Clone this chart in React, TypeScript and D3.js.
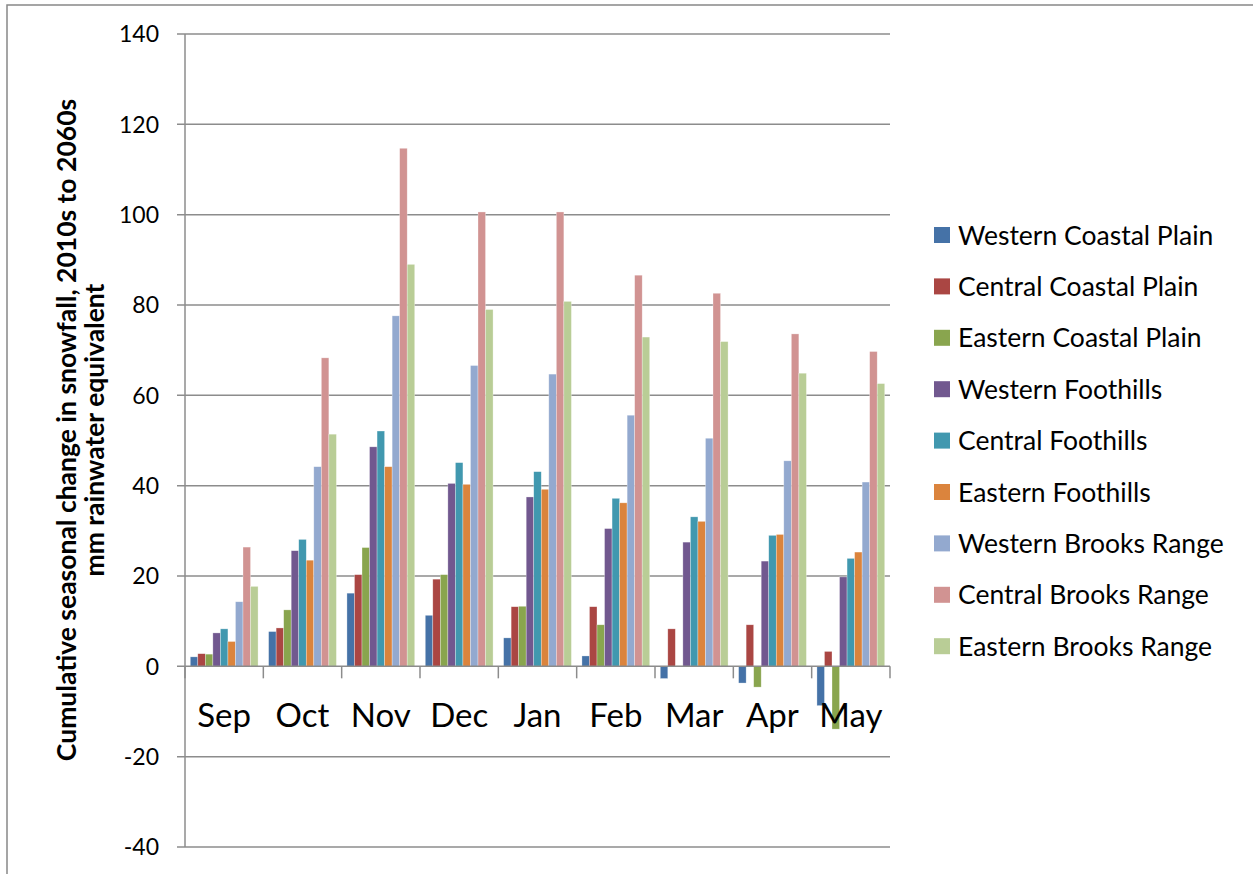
import * as d3 from "d3";
import React, { useLayoutEffect, useRef } from "react";

const months = ["Sep", "Oct", "Nov", "Dec", "Jan", "Feb", "Mar", "Apr", "May"];

const seriesNames = [
  "Western Coastal Plain",
  "Central Coastal Plain",
  "Eastern Coastal Plain",
  "Western Foothills",
  "Central Foothills",
  "Eastern Foothills",
  "Western Brooks Range",
  "Central Brooks Range",
  "Eastern Brooks Range",
];

const colors = [
  "#4572A7",
  "#AA4643",
  "#89A54E",
  "#71588F",
  "#4198AF",
  "#DB843D",
  "#93A9CF",
  "#D19392",
  "#B9CD96",
];

// one array per region, Sep..May
const westernCoastal = [2.1, 7.7, 16.2, 11.3, 6.3, 2.3, -2.7, -3.7, -8.7];
const centralCoastal = [2.8, 8.5, 20.3, 19.3, 13.2, 13.2, 8.3, 9.2, 3.3];
const easternCoastal = [2.7, 12.5, 26.3, 20.3, 13.3, 9.2, 0.1, -4.6, -13.9];
const westernFoothills = [7.4, 25.6, 48.6, 40.5, 37.5, 30.5, 27.5, 23.3, 19.8];
const centralFoothills = [8.3, 28.1, 52.1, 45.1, 43.1, 37.2, 33.1, 29.0, 23.9];
const easternFoothills = [5.5, 23.5, 44.2, 40.3, 39.2, 36.2, 32.1, 29.2, 25.3];
const westernBrooks = [14.3, 44.2, 77.6, 66.6, 64.7, 55.6, 50.5, 45.5, 40.8];
const centralBrooks = [26.4, 68.3, 114.7, 100.6, 100.6, 86.6, 82.6, 73.6, 69.7];
const easternBrooks = [17.7, 51.4, 89.0, 79.0, 80.8, 72.9, 71.9, 64.9, 62.6];

const seriesValues = [
  westernCoastal,
  centralCoastal,
  easternCoastal,
  westernFoothills,
  centralFoothills,
  easternFoothills,
  westernBrooks,
  centralBrooks,
  easternBrooks,
];

const yTicks = [-40, -20, 0, 20, 40, 60, 80, 100, 120, 140];

const W = 1253;
const H = 874;

const App: React.FC = () => {
  const ref = useRef<SVGSVGElement>(null);

  useLayoutEffect(() => {
    const svg = d3.select(ref.current);
    svg.selectAll("*").remove();
    const font = "Lato, 'Open Sans', sans-serif";

    const left = 185;
    const right = 890;
    const top = 34;
    const bottom = 847;

    const y = d3.scaleLinear().domain([-40, 140]).range([bottom, top]);
    const x0 = d3.scaleBand<string>().domain(months).range([left, right]);
    const x1 = d3
      .scaleBand<number>()
      .domain(d3.range(seriesNames.length))
      .range([0, x0.bandwidth()])
      .paddingOuter(0.7);

    // chart frame
    svg
      .append("rect")
      .attr("x", 7)
      .attr("y", 5)
      .attr("width", W + 20)
      .attr("height", H + 20)
      .attr("fill", "none")
      .attr("stroke", "#888")
      .attr("stroke-width", 1.5);

    // gridlines
    svg
      .append("g")
      .selectAll("line")
      .data(yTicks.filter((t) => t !== 0))
      .enter()
      .append("line")
      .attr("x1", left - 8)
      .attr("x2", right)
      .attr("y1", (d) => y(d))
      .attr("y2", (d) => y(d))
      .attr("stroke", "#8c8c8c")
      .attr("stroke-width", 1.5);

    // y tick labels
    svg
      .append("g")
      .selectAll("text")
      .data(yTicks)
      .enter()
      .append("text")
      .attr("x", 159)
      .attr("y", (d) => y(d))
      .attr("dy", "0.36em")
      .attr("text-anchor", "end")
      .attr("font-family", font)
      .attr("font-size", 23)
      .attr("fill", "#000")
      .text((d) => String(d));

    // bars
    const groups = svg
      .append("g")
      .selectAll("g")
      .data(seriesValues)
      .enter()
      .append("g")
      .attr("fill", (_, i) => colors[i]);

    groups
      .selectAll("rect")
      .data((vals, si) => vals.map((v, mi) => ({ v, mi, si })))
      .enter()
      .append("rect")
      .attr("x", (d) => (x0(months[d.mi]) ?? 0) + (x1(d.si) ?? 0))
      .attr("width", x1.bandwidth())
      .attr("y", (d) => y(Math.max(0, d.v)))
      .attr("height", (d) => Math.abs(y(d.v) - y(0)))
      .attr("stroke", "#fff")
      .attr("stroke-opacity", 0.5)
      .attr("stroke-width", 0.6);

    // y axis line and zero axis
    svg
      .append("line")
      .attr("x1", left)
      .attr("x2", left)
      .attr("y1", top)
      .attr("y2", bottom)
      .attr("stroke", "#8c8c8c")
      .attr("stroke-width", 1.5);
    svg
      .append("line")
      .attr("x1", left - 8)
      .attr("x2", right)
      .attr("y1", y(0))
      .attr("y2", y(0))
      .attr("stroke", "#8c8c8c")
      .attr("stroke-width", 1.5);

    // category tick marks
    svg
      .append("g")
      .selectAll("line")
      .data(months.map((m) => x0(m) as number).concat([right]))
      .enter()
      .append("line")
      .attr("x1", (d) => d)
      .attr("x2", (d) => d)
      .attr("y1", y(0))
      .attr("y2", y(0) + 12)
      .attr("stroke", "#8c8c8c")
      .attr("stroke-width", 1.5);

    // month labels
    svg
      .append("g")
      .selectAll("text")
      .data(months)
      .enter()
      .append("text")
      .attr("x", (d) => (x0(d) ?? 0) + x0.bandwidth() / 2)
      .attr("y", 727)
      .attr("text-anchor", "middle")
      .attr("font-family", font)
      .attr("font-size", 33)
      .attr("fill", "#000")
      .text((d) => d);

    // y axis title
    const title = svg
      .append("text")
      .attr("transform", "translate(76,430) rotate(-90)")
      .attr("text-anchor", "middle")
      .attr("font-family", font)
      .attr("font-weight", "bold")
      .attr("font-size", 26.5)
      .attr("fill", "#000");
    title
      .append("tspan")
      .attr("x", 0)
      .attr("y", 0)
      .text("Cumulative seasonal change in snowfall, 2010s to 2060s");
    title
      .append("tspan")
      .attr("x", 0)
      .attr("y", 28)
      .text("mm rainwater equivalent");

    // legend
    const legend = svg
      .append("g")
      .selectAll("g")
      .data(seriesNames)
      .enter()
      .append("g")
      .attr("transform", (_, i) => `translate(934, ${235 + i * 51.4})`);
    legend
      .append("rect")
      .attr("x", 0)
      .attr("y", -8)
      .attr("width", 16)
      .attr("height", 16)
      .attr("fill", (_, i) => colors[i]);
    legend
      .append("text")
      .attr("x", 24)
      .attr("y", 0)
      .attr("dy", "0.36em")
      .attr("font-family", font)
      .attr("font-size", 26.5)
      .attr("fill", "#000")
      .text((d) => d);

    return () => {
      svg.selectAll("*").remove();
    };
  }, []);

  return (
    <svg
      ref={ref}
      width={W}
      height={H}
      style={{ position: "absolute", left: 0, top: 0, background: "#fff" }}
    />
  );
};

export default App;
